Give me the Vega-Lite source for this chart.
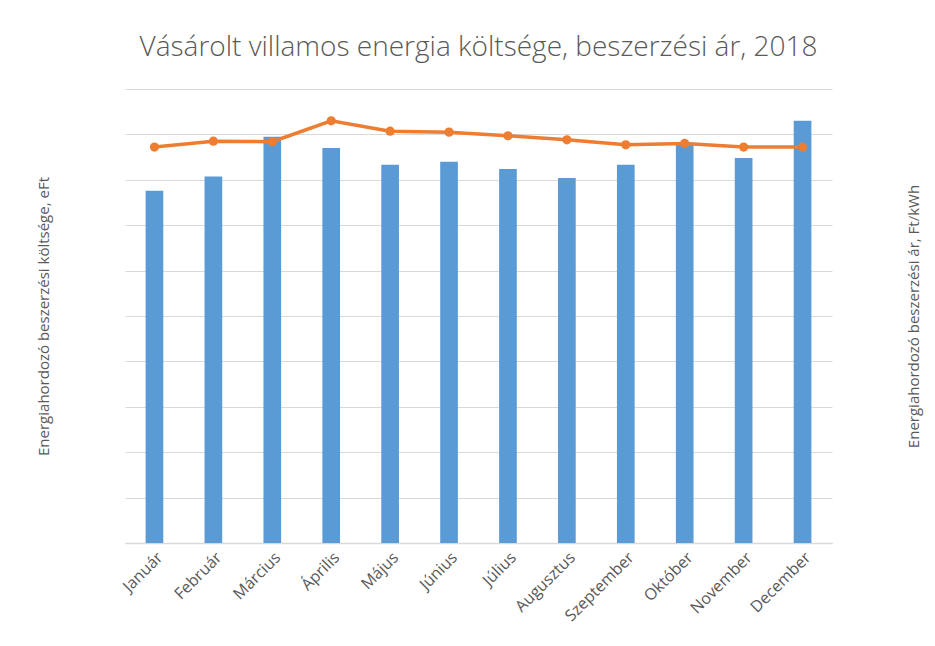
{
  "$schema": "https://vega.github.io/schema/vega-lite/v6.json",
  "autosize": {"type": "none"},
  "width": 707,
  "height": 454,
  "padding": {"left": 125, "top": 89, "right": 103, "bottom": 103},
  "background": "white",
  "title": {
    "text": "Vásárolt villamos energia költsége, beszerzési ár, 2018",
    "font": "Open Sans",
    "fontSize": 28,
    "fontWeight": 300,
    "color": "#595959",
    "offset": 27,
    "anchor": "middle"
  },
  "data": {
    "values": [
      {"honap": "Január", "koltseg": 77.6, "ar": 87.2},
      {"honap": "Február", "koltseg": 80.7, "ar": 88.5},
      {"honap": "Március", "koltseg": 89.5, "ar": 88.4},
      {"honap": "Április", "koltseg": 87.0, "ar": 93.0},
      {"honap": "Május", "koltseg": 83.3, "ar": 90.7},
      {"honap": "Június", "koltseg": 84.0, "ar": 90.5},
      {"honap": "Július", "koltseg": 82.4, "ar": 89.7},
      {"honap": "Augusztus", "koltseg": 80.4, "ar": 88.8},
      {"honap": "Szeptember", "koltseg": 83.3, "ar": 87.7},
      {"honap": "Október", "koltseg": 88.0, "ar": 88.0},
      {"honap": "November", "koltseg": 84.8, "ar": 87.2},
      {"honap": "December", "koltseg": 93.0, "ar": 87.2}
    ]
  },
  "encoding": {
    "x": {
      "field": "honap",
      "type": "nominal",
      "sort": null,
      "scale": {"paddingInner": 0.7, "paddingOuter": 0.35},
      "axis": {
        "title": null,
        "labelAngle": -45,
        "labelFont": "Open Sans",
        "labelFontSize": 16,
        "labelColor": "#595959",
        "labelPadding": 6,
        "ticks": false,
        "domainColor": "#d9d9d9",
        "domainWidth": 1.5
      }
    }
  },
  "layer": [
    {
      "mark": {"type": "bar", "color": "#5B9BD5"},
      "encoding": {
        "y": {
          "field": "koltseg",
          "type": "quantitative",
          "scale": {"domain": [0, 100], "nice": false},
          "axis": {
            "title": "Energiahordozó beszerzési költsége, eFt",
            "titleFont": "Open Sans",
            "titleFontSize": 15,
            "titleFontWeight": "normal",
            "titleColor": "#595959",
            "titlePadding": 74,
            "labels": false,
            "ticks": false,
            "domain": false,
            "grid": true,
            "gridColor": "#d9d9d9",
            "gridWidth": 1.2,
            "values": [0, 10, 20, 30, 40, 50, 60, 70, 80, 90, 100]
          }
        }
      }
    },
    {
      "mark": {
        "type": "line",
        "color": "#ED7D31",
        "strokeWidth": 3.5,
        "point": {"filled": true, "color": "#ED7D31", "size": 85, "opacity": 1}
      },
      "encoding": {
        "y": {
          "field": "ar",
          "type": "quantitative",
          "scale": {"domain": [0, 100], "nice": false},
          "axis": {
            "orient": "right",
            "title": "Energiahordozó beszerzési ár, Ft/kWh",
            "titleFont": "Open Sans",
            "titleFontSize": 15,
            "titleFontWeight": "normal",
            "titleColor": "#595959",
            "titleAngle": 270,
            "titleBaseline": "bottom",
            "titlePadding": 89,
            "labels": false,
            "ticks": false,
            "domain": false,
            "grid": false
          }
        }
      }
    }
  ],
  "resolve": {"scale": {"y": "independent"}},
  "config": {"view": {"stroke": null}}
}
